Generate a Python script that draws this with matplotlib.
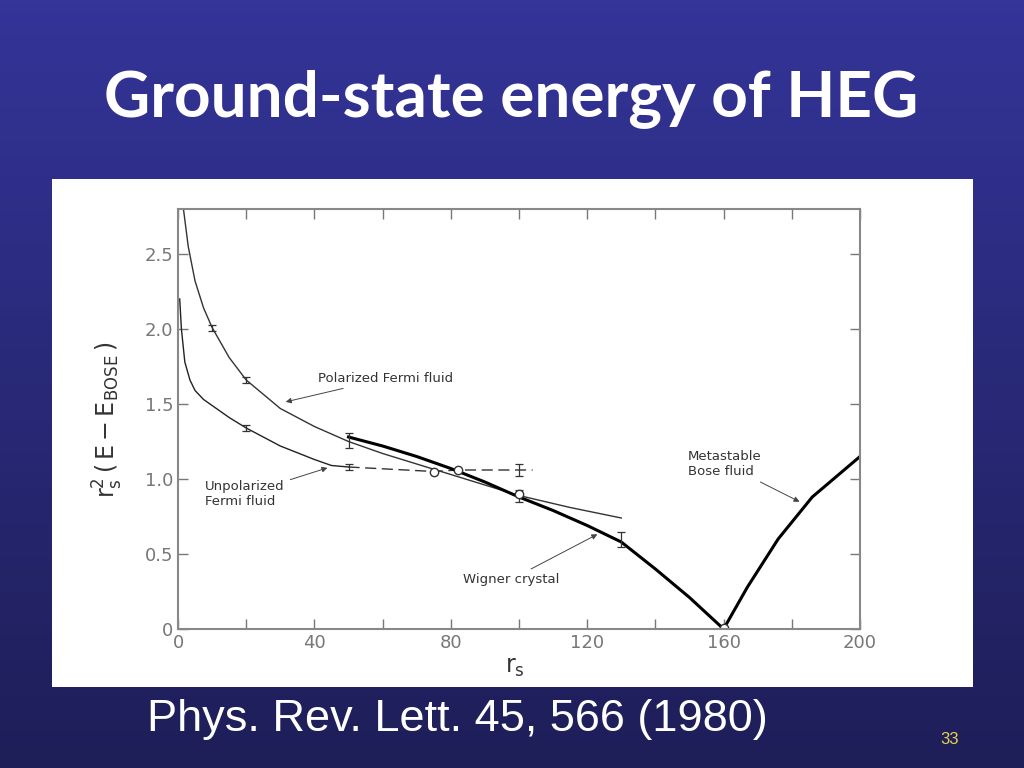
import numpy as np
import matplotlib.pyplot as plt
from matplotlib.patches import Rectangle
from matplotlib.colors import LinearSegmentedColormap

# data (Ceperley & Alder 1980)
pol_rs = [1.6, 3, 5, 7.5, 10, 15, 20, 30, 40, 50, 60, 70, 80, 90, 100, 115, 130]
pol_e = [2.8, 2.55, 2.32, 2.14, 2.01, 1.81, 1.66, 1.47, 1.35, 1.25, 1.17, 1.10, 1.03, 0.96, 0.89, 0.81, 0.74]

unp_rs = [0.5, 1, 2, 3.5, 5, 7.5, 10, 15, 20, 30, 40, 45, 50]
unp_e = [2.2, 2.0, 1.78, 1.66, 1.59, 1.53, 1.49, 1.41, 1.34, 1.22, 1.13, 1.09, 1.08]
unp_dash_rs = [50, 75, 82, 100, 104]
unp_dash_e = [1.08, 1.05, 1.06, 1.06, 1.06]

wig_rs = [50, 60, 70, 80, 90, 100, 110, 120, 130, 140, 150, 160]
wig_e = [1.28, 1.22, 1.15, 1.07, 0.98, 0.88, 0.79, 0.69, 0.58, 0.40, 0.21, 0.0]

bose_rs = [160, 167, 176, 186, 200]
bose_e = [0.0, 0.28, 0.60, 0.88, 1.15]

err_rs = [10, 20, 20, 50, 50, 100, 100, 130]
err_e = [2.01, 1.66, 1.34, 1.26, 1.08, 1.06, 0.89, 0.60]
err_size = [0.02, 0.02, 0.02, 0.05, 0.02, 0.04, 0.04, 0.05]

circ_rs = [75, 82, 100, 160]
circ_e = [1.05, 1.06, 0.90, 0.01]

xticks = [0, 40, 80, 120, 160, 200]
yticks = [0, 0.5, 1.0, 1.5, 2.0, 2.5]
ytick_labels = ['0', '0.5', '1.0', '1.5', '2.0', '2.5']

fig = plt.figure(figsize=(10.24, 7.68), dpi=100)

# slide background gradient
bg = fig.add_axes([0, 0, 1, 1], zorder=-10)
cmap = LinearSegmentedColormap.from_list('slide', ['#1e1e58', '#343499'])
grad = np.linspace(0, 1, 256).reshape(-1, 1)
bg.imshow(grad, aspect='auto', cmap=cmap, origin='lower', extent=[0, 1, 0, 1])
bg.set_xlim(0, 1)
bg.set_ylim(0, 1)
bg.axis('off')

# white panel for the scanned plot
fig.patches.append(Rectangle((52 / 1024, 1 - 687 / 768), 921 / 1024, 508 / 768,
                             transform=fig.transFigure, facecolor='white',
                             edgecolor='none', zorder=-5))

fig.text(511 / 1024, 1 - 99 / 768, 'Ground-state energy of HEG', color='white',
         fontsize=46, fontweight='bold', family='Lato', ha='center', va='center')
fig.text(457 / 1024, 1 - 719 / 768, 'Phys. Rev. Lett. 45, 566 (1980)', color='white',
         fontsize=32.5, family=['Liberation Sans Narrow', 'Liberation Sans'],
         ha='center', va='center')
fig.text(950 / 1024, 1 - 740 / 768, '33', color='#e8d44a', fontsize=12,
         family=['Liberation Sans Narrow', 'Liberation Sans'], ha='center', va='center')

ax = fig.add_axes([178 / 1024, 1 - 629 / 768, 682 / 1024, 420 / 768])
ax.set_facecolor('none')

ax.plot(pol_rs, pol_e, color='#333333', lw=1.0)
ax.plot(unp_rs, unp_e, color='#222222', lw=1.0)
ax.plot(unp_dash_rs, unp_dash_e, color='#333333', lw=1.0, dashes=(8, 4))
ax.plot(wig_rs, wig_e, color='black', lw=2.2)
ax.plot(bose_rs, bose_e, color='black', lw=2.2)
ax.errorbar(err_rs, err_e, yerr=err_size, fmt='none', ecolor='#333333',
            elinewidth=0.9, capsize=3, capthick=0.9)
ax.plot(circ_rs, circ_e, 'o', ms=6, mfc='white', mec='#333333', mew=1.0)

ax.set_xlim(0, 200)
ax.set_ylim(0, 2.8)
ax.set_xticks(xticks)
ax.set_xticks([20, 60, 100, 140, 180], minor=True)
ax.set_yticks(yticks)
ax.set_yticklabels(ytick_labels)
ax.tick_params(which='both', direction='in', top=True, right=True, color='#777777',
               labelcolor='#777777', labelsize=13, width=1.0, length=7)
for sp in ax.spines.values():
    sp.set_color('#888888')
    sp.set_linewidth(1.5)

ann = dict(fontsize=9.5, color='#333333')
arrow = dict(arrowstyle='-|>', color='#444444', lw=0.7, mutation_scale=8)
ax.annotate('Polarized Fermi fluid', xy=(30.8, 1.51), xytext=(41, 1.67),
            va='center', ha='left', arrowprops=arrow, **ann)
ax.annotate('Unpolarized\nFermi fluid', xy=(44.6, 1.08), xytext=(8, 0.9),
            va='center', ha='left', arrowprops=arrow, **ann)
ax.annotate('Wigner crystal', xy=(123.7, 0.64), xytext=(83.5, 0.33),
            va='center', ha='left', arrowprops=arrow, **ann)
ax.annotate('Metastable\nBose fluid', xy=(183, 0.84), xytext=(149.5, 1.1),
            va='center', ha='left', arrowprops=arrow, **ann)

fig.text(515 / 1024, 1 - 667 / 768, r'$\mathrm{r_s}$', fontsize=17, color='#333333',
         ha='center', va='center')
fig.text(108 / 1024, 1 - 420 / 768, r'$\mathrm{r_s^2\,(\,E - E_{BOSE}\,)}$', fontsize=17,
         color='#333333', rotation=90, ha='center', va='center')

fig.savefig('out.png', dpi=100)
